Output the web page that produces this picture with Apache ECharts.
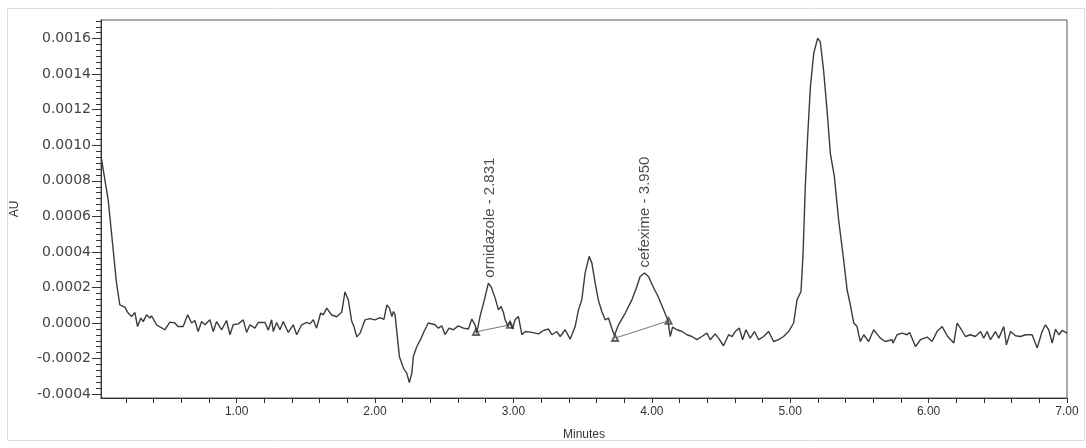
<!DOCTYPE html>
<html>
<head>
<meta charset="utf-8">
<script src="https://cdn.jsdelivr.net/npm/echarts@6/dist/echarts.min.js"></script>
<style>
html,body{margin:0;padding:0;background:#fff;}
#chart{width:1086px;height:448px;}
</style>
</head>
<body>
<div id="chart"></div>
<script>
// ---- data ----
const timeMin = [
0.024,0.048,0.072,0.108,0.132,0.156,0.192,0.216,0.241,0.265,0.284,0.308,0.325,0.349,0.373,0.385,0.421,0.481,0.518,0.554,
0.576,0.614,0.646,0.675,0.698,0.722,0.747,0.771,0.807,0.831,0.855,0.892,0.927,0.952,0.975,1.012,1.048,1.072,1.096,1.132,
1.156,1.205,1.229,1.253,1.265,1.289,1.313,1.337,1.373,1.409,1.434,1.470,1.506,1.530,1.554,1.578,1.607,1.626,1.651,1.687,
1.723,1.759,1.783,1.807,1.832,1.848,1.868,1.892,1.928,1.964,2.000,2.036,2.064,2.086,2.104,2.122,2.133,2.145,2.176,2.205,
2.229,2.248,2.266,2.277,2.302,2.330,2.354,2.385,2.398,2.434,2.458,2.482,2.506,2.535,2.566,2.602,2.638,2.675,2.699,2.723,
2.735,2.759,2.790,2.819,2.838,2.868,2.892,2.911,2.928,2.940,2.960,2.976,2.993,3.012,3.036,3.061,3.085,3.133,3.181,3.217,
3.253,3.278,3.314,3.338,3.374,3.410,3.446,3.470,3.494,3.518,3.547,3.567,3.591,3.615,3.639,3.663,3.687,3.711,3.730,3.759,
3.808,3.856,3.892,3.916,3.947,3.976,4.012,4.048,4.085,4.116,4.133,4.150,4.181,4.218,4.254,4.290,4.326,4.362,4.398,4.422,
4.458,4.482,4.518,4.555,4.579,4.603,4.632,4.656,4.680,4.711,4.742,4.772,4.808,4.844,4.880,4.916,4.952,4.988,5.025,5.049,
5.078,5.093,5.109,5.126,5.146,5.170,5.198,5.217,5.241,5.266,5.290,5.319,5.350,5.386,5.411,5.435,5.459,5.483,5.495,5.507,
5.531,5.543,5.567,5.603,5.651,5.687,5.736,5.743,5.772,5.808,5.844,5.863,5.905,5.941,5.989,6.025,6.061,6.098,6.138,6.182,
6.206,6.230,6.266,6.302,6.338,6.375,6.398,6.423,6.447,6.483,6.507,6.543,6.562,6.592,6.628,6.664,6.700,6.748,6.785,6.820,
6.844,6.868,6.893,6.917,6.941,6.965,7.000
];
const absorbance = [
0.000922,0.000806,0.000693,0.000412,0.000224,0.000102,0.000089,0.000056,0.000037,0.000059,-0.000020,0.000028,0.000008,0.000046,0.000028,0.000040,-0.000010,-0.000038,0.000005,0.000000,
-0.000020,-0.000020,0.000046,0.000000,0.000014,-0.000048,0.000008,-0.000010,0.000018,-0.000048,0.000008,-0.000038,0.000014,-0.000066,-0.000010,-0.000005,0.000018,-0.000053,-0.000010,-0.000029,
0.000003,0.000003,-0.000040,0.000018,-0.000048,0.000003,-0.000038,0.000008,-0.000053,-0.000010,-0.000066,-0.000010,0.000003,-0.000005,0.000018,-0.000029,0.000056,0.000046,0.000084,0.000045,
0.000035,0.000060,0.000175,0.000130,0.000008,-0.000020,-0.000078,-0.000057,0.000018,0.000025,0.000018,0.000030,0.000020,0.000102,0.000084,0.000037,0.000065,0.000046,-0.000188,-0.000254,
-0.000282,-0.000335,-0.000282,-0.000188,-0.000132,-0.000091,-0.000048,0.000000,0.000003,-0.000010,-0.000029,-0.000016,-0.000065,-0.000029,-0.000038,-0.000016,-0.000029,-0.000034,0.000022,-0.000010,
-0.000057,0.000037,0.000130,0.000224,0.000205,0.000140,0.000074,0.000093,0.000059,0.000018,-0.000016,0.000008,-0.000034,0.000018,0.000037,-0.000066,-0.000048,-0.000053,-0.000061,-0.000042,
-0.000034,-0.000066,-0.000048,-0.000076,-0.000038,-0.000091,-0.000020,0.000074,0.000130,0.000281,0.000375,0.000337,0.000224,0.000125,0.000065,0.000018,0.000028,-0.000029,-0.000070,-0.000010,
0.000056,0.000130,0.000205,0.000262,0.000281,0.000262,0.000200,0.000145,0.000074,0.000015,-0.000076,-0.000023,-0.000038,-0.000048,-0.000066,-0.000076,-0.000094,-0.000076,-0.000057,-0.000094,
-0.000061,-0.000085,-0.000128,-0.000066,-0.000076,-0.000048,-0.000029,-0.000094,-0.000038,-0.000085,-0.000048,-0.000094,-0.000076,-0.000048,-0.000104,-0.000094,-0.000076,-0.000048,0.000000,0.000130,
0.000177,0.000393,0.000768,0.001049,0.001330,0.001518,0.001602,0.001583,0.001423,0.001199,0.000955,0.000824,0.000580,0.000355,0.000187,0.000100,0.000000,-0.000020,-0.000066,-0.000104,
-0.000066,-0.000057,-0.000104,-0.000038,-0.000085,-0.000104,-0.000094,-0.000113,-0.000066,-0.000057,-0.000066,-0.000053,-0.000132,-0.000094,-0.000079,-0.000104,-0.000048,-0.000020,-0.000076,-0.000113,
0.000000,-0.000029,-0.000076,-0.000066,-0.000076,-0.000048,-0.000085,-0.000048,-0.000094,-0.000048,-0.000085,-0.000020,-0.000123,-0.000048,-0.000072,-0.000076,-0.000066,-0.000066,-0.000140,-0.000048,
-0.000010,-0.000038,-0.000113,-0.000034,-0.000066,-0.000042,-0.000057
];
// labelled peaks
const peakNames = ['ornidazole - 2.831', 'cefexime - 3.950'];
const peakTimes = [2.831, 3.950];
const peakHeights = [0.000224, 0.000281];
// integration baselines (start, end) for each labelled peak
const ornidazoleBaseline = [[2.730, -0.000050], [2.975, -0.000010]];
const cefeximeBaseline = [[3.735, -0.000085], [4.121, 0.000012]];
// axis ticks
const yTickLabels = [-0.0004, -0.0002, 0.0000, 0.0002, 0.0004, 0.0006, 0.0008, 0.0010, 0.0012, 0.0014, 0.0016];
const xTickLabels = [1, 2, 3, 4, 5, 6, 7];
const xAxisName = 'Minutes';
const yAxisName = 'AU';

// ---- build ----
const trace = timeMin.map((t, i) => [t, absorbance[i]]);
const xTicks = [];
for (let k = 1; k <= 35; k++) xTicks.push(+(k * 0.2).toFixed(2));
const yMinor = [];
for (let k = -12; k <= 60; k++) {
  if (k % 6 !== 0) yMinor.push(k * 0.0002 / 6);
}
const Y_MIN = -0.000422, Y_MAX = 0.001705;
const axisColor = '#333';
const labelFont = "'DejaVu Sans', sans-serif";
const textFont = "'Liberation Sans', Arial, sans-serif";

const chart = echarts.init(document.getElementById('chart'), null, { renderer: 'canvas' });
chart.setOption({
  animation: false,
  backgroundColor: '#fff',
  grid: {
    left: 101, right: 19, top: 20, bottom: 50,
    show: true, borderColor: '#555', borderWidth: 1,
    outerBoundsMode: 'none'
  },
  graphic: [{
    type: 'rect', silent: true,
    shape: { x: 7.5, y: 8.5, width: 1077, height: 432 },
    style: { fill: 'none', stroke: '#dcdcdc', lineWidth: 1 }
  }],
  xAxis: {
    type: 'value', min: 0.02, max: 7.0,
    name: xAxisName, nameLocation: 'middle', nameGap: 31,
    nameTextStyle: { fontFamily: textFont, fontSize: 12, color: '#333' },
    axisLine: { show: true, onZero: false, lineStyle: { color: axisColor, width: 1 } },
    axisTick: { show: true, inside: false, length: 5, lineStyle: { color: axisColor }, customValues: xTicks },
    axisLabel: {
      show: true, margin: 8, customValues: xTickLabels,
      formatter: v => v.toFixed(2),
      fontFamily: textFont, fontSize: 12, color: '#333'
    },
    splitLine: { show: false }
  },
  yAxis: [{
    type: 'value', min: Y_MIN, max: Y_MAX,
    name: yAxisName, nameLocation: 'middle', nameGap: 80, nameRotate: 90,
    nameTextStyle: { fontFamily: textFont, fontSize: 12, color: '#333' },
    axisLine: { show: true, onZero: false, lineStyle: { color: axisColor, width: 1 } },
    axisTick: { show: true, inside: false, length: 9, lineStyle: { color: axisColor }, customValues: yTickLabels },
    axisLabel: {
      show: true, margin: 10, customValues: yTickLabels,
      formatter: v => v.toFixed(4),
      fontFamily: labelFont, fontSize: 14, color: '#444'
    },
    splitLine: { show: false }
  }, {
    type: 'value', min: Y_MIN, max: Y_MAX, position: 'left', offset: 0,
    axisLine: { show: false, onZero: false },
    axisTick: { show: true, inside: false, length: 5, lineStyle: { color: axisColor }, customValues: yMinor },
    axisLabel: { show: false },
    splitLine: { show: false }
  }],
  series: [{
    type: 'line', name: 'trace', data: trace,
    showSymbol: false, symbol: 'none', sampling: null,
    lineStyle: { color: '#3c3c3c', width: 1.4 },
    z: 3
  }, {
    type: 'line', name: 'ornidazole baseline', data: ornidazoleBaseline,
    symbol: 'emptyTriangle', symbolSize: 6, showSymbol: true,
    itemStyle: { color: '#666', borderColor: '#666' },
    lineStyle: { color: '#777', width: 1 }, z: 2
  }, {
    type: 'line', name: 'cefexime baseline', data: cefeximeBaseline,
    symbol: 'emptyTriangle', symbolSize: 6, showSymbol: true,
    itemStyle: { color: '#666', borderColor: '#666' },
    lineStyle: { color: '#777', width: 1 }, z: 2
  }, {
    type: 'scatter', name: 'peak labels',
    data: peakTimes.map((t, i) => ({ value: [t, peakHeights[i]], name: peakNames[i] })),
    symbol: 'circle', symbolSize: 1,
    itemStyle: { color: 'rgba(0,0,0,0)' },
    label: {
      show: true, position: 'top', distance: 5, rotate: 90,
      align: 'left', verticalAlign: 'middle',
      formatter: p => p.name,
      fontFamily: textFont, fontSize: 15, color: '#222'
    },
    z: 4
  }]
});
</script>
</body>
</html>
